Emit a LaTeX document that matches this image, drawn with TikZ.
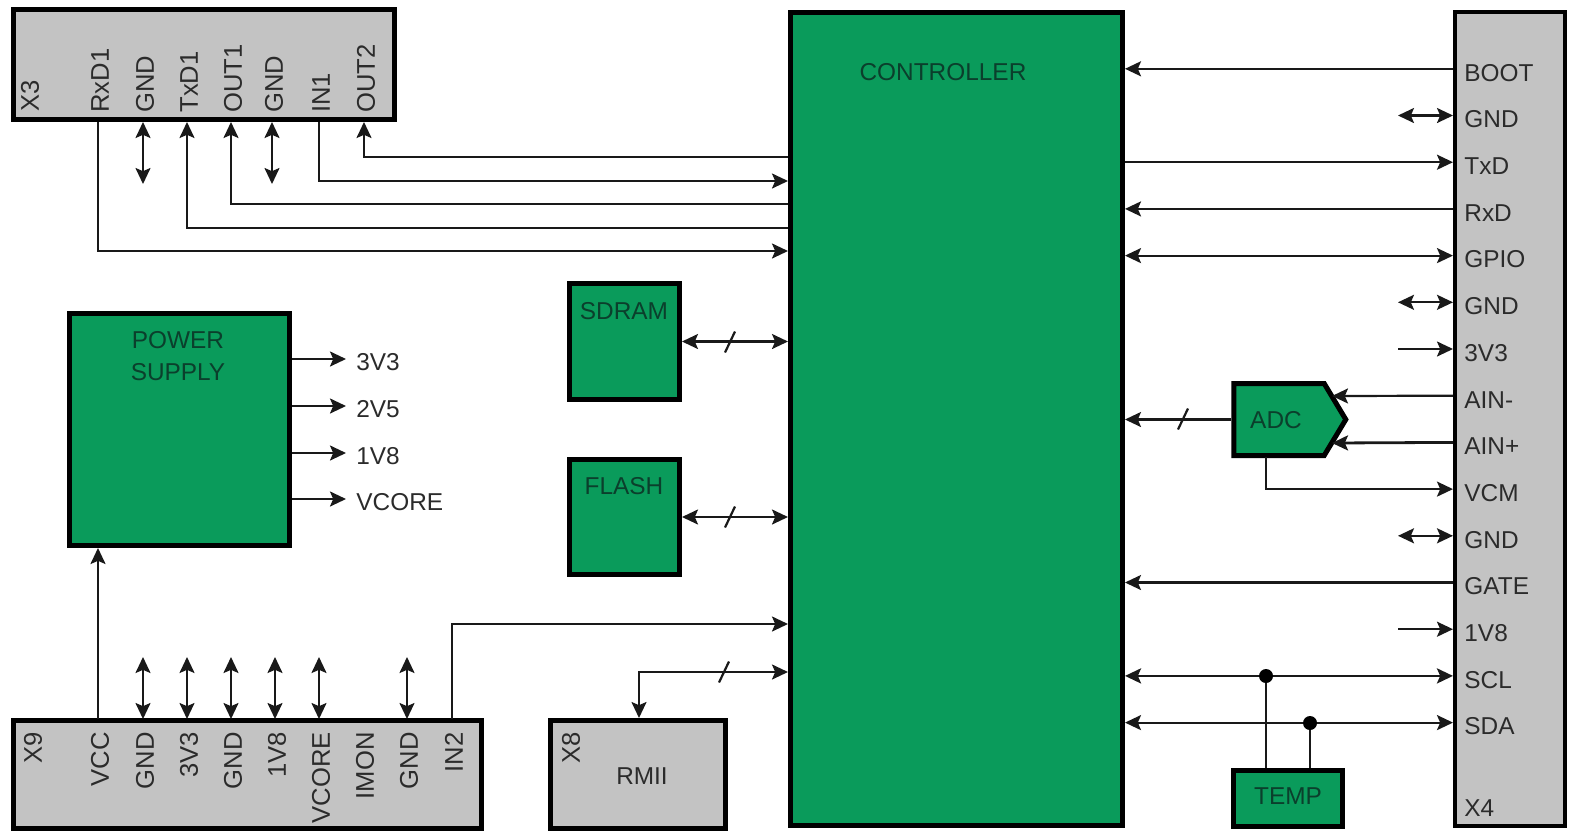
\documentclass[tikz,border=0pt]{standalone}
\usepackage{fontspec}
\setmainfont{Liberation Sans}
\usetikzlibrary{arrows.meta,shapes.symbols}
\definecolor{verde}{HTML}{0A9B5B}
\definecolor{grigio}{HTML}{C3C3C3}
\definecolor{scritta}{HTML}{2B2B2B}
\definecolor{scuro}{HTML}{0B3F2C}
\tikzset{
  >={Stealth[length=8pt,width=7.5pt,inset=1.6pt]},
  greenbox/.style={draw=black,fill=verde,line width=2.5pt,inner sep=0pt},
  greybox/.style={draw=black,fill=grigio,line width=2.5pt,inner sep=0pt},
  wire/.style={line width=1.1pt,draw=black!90},
  txt/.style={font=\fontsize{12.2}{14}\selectfont,text=scritta,inner sep=0pt,text height=8.8pt,text depth=0pt},
  txtgreen/.style={txt,text=scuro},
  vtxt/.style={txt,font=\fontsize{12.8}{14}\selectfont,rotate=90},
  jointdot/.style={circle,fill=black,inner sep=0pt,minimum size=7pt}
}
\begin{document}
\begin{tikzpicture}[x=0.5pt,y=-0.5pt]
  \useasboundingbox (0,0) rectangle (1571,832);
  % Blocchi
  \node[greenbox,minimum width=166pt,minimum height=406.5pt] (ctrl) at (956.5,419) {};
  \node[greybox,line width=2pt,minimum width=55pt,minimum height=407pt] (xiv) at (1510,419) {};
  \node[greybox,minimum width=190.5pt,minimum height=55pt] (xiii) at (204,64.5) {};
  \node[greybox,minimum width=234pt,minimum height=54pt] (xix) at (247.5,774.5) {};
  \node[greybox,minimum width=87.5pt,minimum height=54pt] (xviii) at (638,774.5) {};
  \node[greenbox,minimum width=110pt,minimum height=116pt] (power) at (179.5,429.5) {};
  \node[greenbox,minimum width=55pt,minimum height=58pt] (sdram) at (624.5,341.5) {};
  \node[greenbox,minimum width=55pt,minimum height=57.5pt] (flash) at (624.5,517) {};
  \node[greenbox,minimum width=54.5pt,minimum height=28pt] (temp) at (1288,798.5) {};
  \node[greenbox,shape=signal,signal to=east,signal from=nowhere,signal pointer angle=118,
    minimum width=56pt,minimum height=36pt] (adc) at (1279,419.5) {};
  % Scritte dei blocchi
  \node[txtgreen] (ctrltxt) at (943,72) {CONTROLLER};
  \node[txtgreen] (powertxt) at (178,340) {POWER};
  \node[txtgreen] (supplytxt) at (178,372) {SUPPLY};
  \node[txtgreen] (sdramtxt) at (624,311) {SDRAM};
  \node[txtgreen] (flashtxt) at (624,486) {FLASH};
  \node[txtgreen] (adctxt) at (1276,420) {ADC};
  \node[txtgreen] (temptxt) at (1288,796) {TEMP};
  \node[txt] (rmii) at (642,776) {RMII};
  \node[vtxt,anchor=east] (xviiitxt) at (571,732) {X8};
  \node[vtxt,anchor=west] (xiiitxt) at (30,112) {X3};
  \node[vtxt,anchor=east] (xixtxt) at (33,732) {X9};
  \node[txt,anchor=west] (xivtxt) at (1464,808) {X4};
  % Piedini di X3
  \foreach \lab/\x/\n in {RxD1/98/a,GND/143/b,TxD1/187/c,OUT1/231/d,GND/272/e,IN1/319/f,OUT2/364/g}{
    \coordinate (t\n) at (\x,122);
    \node[vtxt,anchor=west] (tl\n) at (\x+2,113) {\lab};
  }
  % Piedini di X9
  \foreach \lab/\x/\n in {VCC/98/a,GND/143/b,3V3/187/c,GND/231/d,1V8/275/e,VCORE/319/f,IMON/363/g,GND/407/h,IN2/452/i}{
    \coordinate (n\n) at (\x,719);
    \node[vtxt,anchor=east] (nl\n) at (\x+2,732) {\lab};
  }
  % Piedini di X4
  \foreach \lab [count=\i] in {BOOT,GND,TxD,RxD,GPIO,GND,3V3,AIN-,AIN+,VCM,GND,GATE,1V8,SCL,SDA}{
    \pgfmathsetmacro\py{68.8+46.7*(\i-1)}
    \coordinate (p\i) at (1453,\py);
    \coordinate (s\i) at (1398,\py);
    \node[txt,anchor=west] (pl\i) at (1464,\py+3.5) {\lab};
  }
  % Collegamenti X3 - controller
  \draw[wire,->] (ctrl.west |- 0,157) -| (tg);
  \draw[wire,->] (tf) |- (ctrl.west |- 0,181);
  \draw[wire,->] (ctrl.west |- 0,204) -| (td);
  \draw[wire,->] (ctrl.west |- 0,228) -| (tc);
  \draw[wire,->] (ta) |- (ctrl.west |- 0,251);
  \draw[wire,<->] (tb) -- (143,184);
  \draw[wire,<->] (te) -- (272,184);
  % Collegamenti X4 - controller
  \draw[wire,->] (p1) -- (ctrl.east |- p1);
  \draw[wire,->] (ctrl.east |- p3) -- (p3);
  \draw[wire,->] (p4) -- (ctrl.east |- p4);
  \draw[wire,<->] (ctrl.east |- p5) -- (p5);
  \draw[wire,->] (p12) -- (ctrl.east |- p12);
  \draw[wire,line width=1.4pt,<->] (ctrl.east |- p14) -- (p14);
  \draw[wire,<->] (ctrl.east |- p15) -- (p15);
  \foreach \i in {2,6,11}{
    \draw[wire,<->] (s\i) -- (p\i);
  }
  \foreach \i in {7,13}{
    \draw[wire,->] (s\i) -- (p\i);
  }
  % ADC
  \coordinate (ainm) at (1332,396);
  \coordinate (ainp) at (1332,443);
  \draw[wire,->] (p8) -- (ainm);
  \draw[wire,line width=1.4pt,->] (p9) -- (ainp);
  \draw[wire,->] (1266,457) |- (p10);
  \draw[wire,->] (adc.west) -- (ctrl.east |- adc.west);
  % Sensore di temperatura
  \node[jointdot] (scl) at (1266,676) {};
  \node[jointdot] (sda) at (1310,723) {};
  \draw[wire] (scl) -- (scl |- temp.north);
  \draw[wire] (sda) -- (sda |- temp.north);
  % Alimentazione
  \foreach \lab/\y/\n in {3V3/359/a,2V5/406/b,1V8/453/c,VCORE/499/d}{
    \coordinate (u\n) at (346,\y);
    \draw[wire,->] (power.east |- u\n) -- (u\n);
    \node[txt,anchor=west] (ul\n) at (356,\y+3) {\lab};
  }
  \draw[wire,->] (na) -- (na |- power.south);
  \foreach \n in {b,c,d,e,f,h}{
    \path (n\n) ++(0,-62) coordinate (n\n top);
    \draw[wire,<->] (n\n) -- (n\n top);
  }
  \draw[wire,->] (ni) |- (ctrl.west |- 0,624);
  % Bus
  \draw[wire,<->] (sdram.east) -- (ctrl.west |- sdram.east);
  \draw[wire,<->] (flash.east) -- (ctrl.west |- flash.east);
  \draw[wire,<->] (xviii.north -| 639,0) |- (ctrl.west |- 0,672);
  \foreach \x/\y in {730/342,730/517,724/672,1183/419}{
    \draw[wire] (\x-5,\y+10.5) -- (\x+5,\y-10.5);
  }
\end{tikzpicture}
\end{document}
